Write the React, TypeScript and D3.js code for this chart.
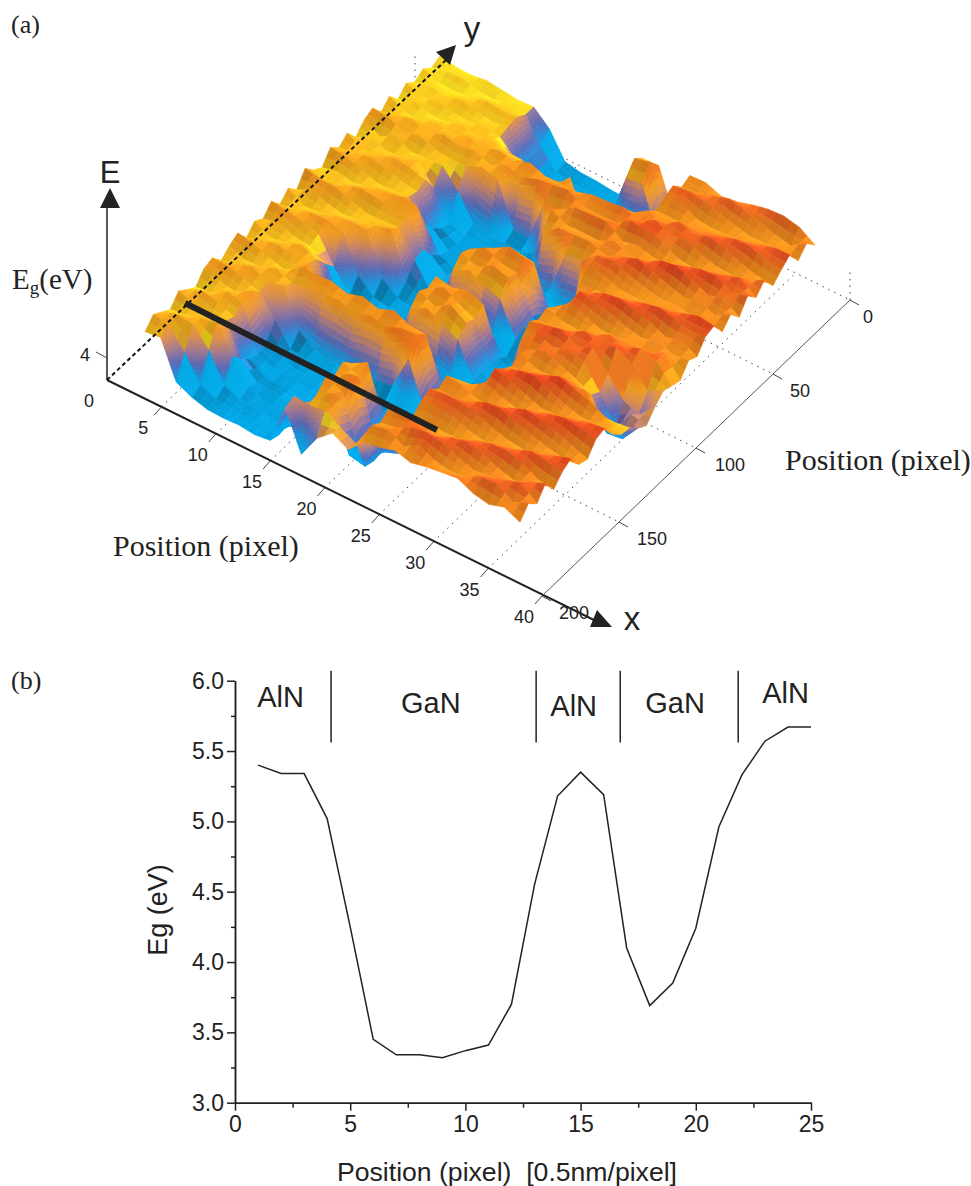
import React, { useEffect, useRef } from 'react';
import * as d3 from 'd3';

// panel (b) profile
const profileX = [1, 2, 3, 4, 5, 6, 7, 8, 9, 10, 11, 12, 13, 14, 15, 16, 17, 18, 19, 20, 21, 22, 23, 24, 25];
const profileEg = [5.4, 5.34, 5.34, 5.02, 4.25, 3.45, 3.34, 3.34, 3.32, 3.37, 3.41, 3.7, 4.55, 5.18, 5.35, 5.19, 4.1, 3.69, 3.85, 4.24, 4.96, 5.33, 5.57, 5.67, 5.67];
const egTicks = [3, 3.5, 4, 4.5, 5, 5.5, 6];
const egMinor = [3.25, 3.75, 4.25, 4.75, 5.25, 5.75];
const posTicks = [0, 5, 10, 15, 20, 25];
const posMinor = [2.5, 7.5, 12.5, 17.5, 22.5];
const layerEdges = [4.17, 13.07, 16.72, 21.84];
const layerNames = ['AlN', 'GaN', 'AlN', 'GaN', 'AlN'];
const layerX = [1.98, 8.5, 14.7, 19.1, 23.9];
const layerY = [5.81, 5.77, 5.75, 5.77, 5.84];

// panel (a) axes
const xTicks3d = [0, 5, 10, 15, 20, 25, 30, 35, 40];
const yTicks3d = [0, 50, 100, 150, 200];

// panel (a) surface heights in eV, one row per step along x, front to back along y
const r00 = [4.95,5.3,5.1,4.9,5.3,5.05, 4.85,5.25,5.35,4.95,5.2,5.4, 4.9,5.25,5.05,5.4,5.0,5.3, 4.95,5.45,5.1,4.9,5.35,5.05, 5.3,4.85,5.2,5.35,4.9,5.2, 4.8,5.1,4.85,5.05,4.8,4.95];
const r01 = [5.05,5.2,5.3,5.0,5.1,5.3, 4.95,5.1,5.35,5.15,5.0,5.3, 5.15,4.95,5.2,5.35,5.1,4.95, 5.25,5.35,4.95,5.05,5.3,5.15, 5.0,5.1,4.9,5.3,5.1,4.9, 5.05,4.9,5.0,4.85,4.95,4.85];
const r02 = [3.7,4.5,5.25,5.2,4.95,5.2, 5.3,5.0,5.2,5.35,5.05,5.1, 5.3,5.05,5.0,5.25,5.3,5.0, 5.05,5.35,5.15,4.95,5.15,5.3, 5.1,4.95,5.2,5.1,5.25,4.95, 4.9,5.05,4.95,4.85,5.0,4.85];
const r03 = [3.45,3.6,4.6,5.3,5.1,4.95, 5.2,5.35,5.0,5.1,5.3,4.95, 5.15,5.3,4.95,5.1,5.35,5.2, 4.95,5.15,5.35,5.1,4.95,5.2, 5.3,5.05,4.95,5.25,5.1,5.15, 4.9,4.95,5.1,4.9,4.85,4.95];
const r04 = [3.3,3.4,3.6,4.4,4.0,3.7, 3.6,3.7,4.3,5.25,5.05,5.35, 5.2,5.05,4.6,4.2,5.2,5.3, 5.05,5.0,5.3,5.25,5.0,5.05, 5.25,5.2,5.0,5.05,5.3,5.05, 5.1,4.9,5.0,5.1,4.85,4.9];
const r05 = [3.3,3.35,3.4,3.55,3.45,3.35, 3.35,3.45,3.5,3.9,5.2,5.4, 4.4,3.8,3.5,3.45,3.9,5.3, 5.15,5.05,5.2,5.35,5.05,4.95, 5.1,4.5,5.05,5.0,5.2,5.25, 5.0,5.05,4.9,5.05,4.95,4.85];
const r06 = [3.35,3.3,3.4,3.3,3.45,3.3, 3.4,3.3,3.45,3.5,5.25,5.45, 3.7,3.4,3.35,3.3,3.4,3.8, 5.35,5.1,5.25,5.35,4.4,3.9, 3.6,3.5,4.4,5.05,5.3,5.15, 5.15,4.95,5.05,5.1,4.9,4.9];
const r07 = [3.3,3.35,3.3,3.4,3.3,3.35, 3.3,3.4,3.3,3.4,5.35,5.3, 3.4,3.35,3.3,3.35,3.3,3.4, 3.7,4.2,4.3,3.8,3.5,3.4, 3.35,3.4,3.5,5.3,5.1,5.35, 5.0,4.4,3.9,4.0,4.0,4.4];
const r08 = [3.4,3.3,3.35,3.3,3.4,3.3, 3.35,3.3,3.4,3.4,5.2,5.5, 3.4,3.3,3.35,3.3,3.4,3.3, 3.35,3.4,3.3,3.35,3.3,3.4, 3.3,3.35,3.4,5.15,5.4,5.25, 5.0,3.7,3.4,3.35,3.4,3.5];
const r09 = [4.9,5.05,3.6,3.4,3.3,3.35, 3.3,3.4,3.3,3.5,5.4,5.35, 3.5,3.35,3.3,3.4,3.3,3.35, 3.3,3.4,3.35,3.3,3.4,3.3, 3.35,3.3,3.4,3.6,5.25,5.5, 4.4,3.5,3.3,3.35,3.3,3.4];
const r10 = [3.5,5.0,5.2,5.5,5.25,5.45, 5.1,3.8,3.4,3.6,5.3,5.6, 3.6,5.1,5.45,5.25,5.4,3.7, 5.05,5.4,5.25,3.8,3.4,3.35, 3.3,3.35,3.4,3.6,5.5,5.3, 4.2,3.4,3.35,3.3,3.35,3.4];
const r11 = [4.4,5.1,5.45,5.25,5.6,5.2, 5.45,3.7,3.35,3.7,5.55,5.35, 3.5,5.4,5.2,5.6,5.3,3.6, 5.35,5.2,5.6,5.3,3.8,3.4, 3.35,3.4,3.6,5.2,5.6,5.35, 5.3,3.5,3.3,3.35,3.3,3.35];
const r12 = [4.9,4.8,3.5,3.3,3.4,3.3, 3.4,3.3,3.4,5.0,5.6,5.35, 3.5,5.15,5.55,5.3,5.5,3.5, 5.1,5.55,5.35,5.65,5.15,3.7, 3.4,5.05,5.55,5.3,5.7,5.35, 4.0,3.4,3.35,3.3,3.4,3.35];
const r13 = [4.6,4.5,3.4,3.3,3.35,3.3, 3.35,3.3,3.4,3.35,3.6,3.8, 3.4,4.85,5.2,5.05,5.3,3.5, 4.9,5.4,5.3,5.55,5.1,3.6, 3.5,5.5,5.3,5.65,5.4,5.55, 3.6,3.4,3.3,5.0,5.45,5.15];
const r14 = [5.2,5.5,5.3,5.55,3.6,3.4, 3.3,3.35,3.3,3.4,3.3,3.35, 3.4,3.6,3.7,3.7,3.6,3.4, 3.7,3.9,4.0,3.8,3.5,3.4, 5.15,5.55,5.35,5.7,5.4,5.6, 3.5,3.35,3.4,5.1,5.6,5.2];
const r15 = [5.3,5.65,5.45,5.7,5.25,5.55, 5.7,5.4,5.6,5.2,3.5,3.35, 3.3,3.4,3.35,3.3,3.4,3.35, 3.3,3.4,3.3,3.35,3.3,3.5, 5.2,5.6,5.35,5.75,5.45,5.7, 5.2,3.5,3.35,3.4,3.5,3.6];
const r16 = [5.5,5.35,5.75,5.6,5.35,5.65, 5.8,5.4,5.55,5.3,3.9,3.5, 3.4,3.6,3.9,5.2,5.6,5.35, 5.5,5.25,4.2,4.5,5.25,5.6, 5.7,5.4,5.65,5.35,5.8,5.5, 5.6,5.3,5.5,5.65,5.3,5.45];
const r17 = [5.35,5.7,5.85,5.45,5.3,5.6, 5.8,5.55,5.35,5.65,5.9,5.6, 5.4,5.6,5.45,5.8,5.75,5.4, 5.35,5.7,5.85,5.5,5.3,5.55, 5.8,5.65,5.4,5.5,5.75,5.85, 5.45,5.35,5.65,5.75,5.4,5.5];
const r18 = [5.5,5.45,5.8,5.7,5.35,5.4, 5.7,5.85,5.4,5.45,5.75,5.85, 5.5,5.35,5.7,5.55,5.9,5.55, 5.3,5.5,5.75,5.8,5.4,5.35, 5.6,5.9,5.5,5.35,5.65,5.6, 5.8,5.4,5.35,5.7,5.6,5.3];
const r19 = [5.6,5.35,5.55,5.85,5.6,5.3, 5.5,5.9,5.65,5.3,5.55,5.95, 5.7,5.35,5.5,5.75,5.6,5.85, 5.45,5.3,5.65,5.9,5.55,5.35, 5.45,5.75,5.85,5.4,5.35,5.75, 5.65,5.5,5.3,5.55,5.8,5.4];
const r20 = [5.7,5.45,5.4,5.7,5.8,5.45, 5.35,5.7,5.9,5.5,5.35,5.7, 5.95,5.55,5.3,5.6,5.85,5.65, 5.75,5.35,5.45,5.8,5.75,5.4, 5.35,5.55,5.95,5.65,5.3,5.5, 5.85,5.6,5.35,5.4,5.7,5.6];
const r21 = [5.45,5.75,5.5,5.5,5.85,5.6, 5.3,5.55,5.85,5.75,5.4,5.5, 5.8,5.5,5.0,4.8,5.2,5.9, 5.6,5.5,5.35,5.65,5.9,5.5, 5.4,5.4,5.75,5.85,5.45,5.35, 5.7,5.8,5.45,5.3,5.55,5.75];
const r22 = [5.35,5.8,5.65,5.35,5.7,5.85, 5.45,5.4,5.7,5.9,5.55,5.35, 5.65,4.7,3.9,3.8,4.5,5.55, 5.85,5.4,5.55,5.4,5.8,5.7, 5.35,5.55,5.5,5.9,5.65,5.35, 5.5,5.85,5.6,5.35,5.4,5.8];
const r23 = [5.55,5.45,5.85,5.6,5.4,5.8, 5.7,5.3,5.5,5.85,5.75,5.4, 5.35,4.9,4.0,4.6,4.3,4.9, 5.7,5.7,5.35,5.6,5.65,5.9, 5.5,5.35,5.7,5.6,5.85,5.45, 5.35,5.65,5.8,5.45,5.3,5.7];
const r24 = [5.3,5.7,5.4,5.85,5.35,5.7, 5.9,5.4,5.3,5.75,5.85,5.35, 5.05,5.0,4.7,4.5,4.9,5.2, 5.1,5.0,5.45,5.3,5.75,5.85, 5.35,5.7,5.3,5.8,5.45,5.8, 5.3,5.6,5.85,5.35,5.7,5.35];
const surfaceRows = [r00, r01, r02, r03, r04, r05, r06, r07, r08, r09, r10, r11, r12, r13, r14, r15, r16, r17, r18, r19, r20, r21, r22, r23, r24];

// flat parts of the surface
const energyStops = [3.3, 3.6, 3.9, 4.1, 4.4, 4.6, 4.8, 4.88, 5.0, 5.25, 5.55, 5.75, 5.95];
const energyColours = ['#00aeef', '#08a6ea', '#3f7fd0', '#6c62ae', '#b07f8a', '#d99060', '#f0a638', '#fbe01f', '#fcc51c', '#f9a31c', '#f5841e', '#ee5a1f', '#dc2f1c'];
// steep walls go orange to tan to purple to blue, with no yellow in between
const wallStops = [3.45, 3.75, 4.1, 4.45, 4.85, 5.2, 5.6];
const wallColours = ['#00aeef', '#1d94e0', '#5c6cbb', '#a37a98', '#e2924e', '#f8a01e', '#f37a1e'];

const serif = '"Liberation Serif", serif';
const sans = '"Liberation Sans", Arial, sans-serif';

export default function App() {
  const ref = useRef<SVGSVGElement>(null);

  useEffect(() => {
    const svg = d3.select(ref.current);
    svg.selectAll('*').remove();

    // ---- panel (a) ----
    const a = svg.append('g');
    const ax = { x: 107, y: 380 };
    const xAlong = d3.scaleLinear().domain([0, 40]).range([0, 435]);
    const xDrop = d3.scaleLinear().domain([0, 40]).range([0, 216]);
    const yAlong = d3.scaleLinear().domain([200, 0]).range([0, 308]);
    const yRise = d3.scaleLinear().domain([200, 0]).range([0, 296]);
    const base = (x: number, y: number) => [ax.x + xAlong(x) + yAlong(y), ax.y + xDrop(x) - yRise(y)];

    // dotted floor grid, hidden by the surface where it passes under it
    const dotted = (p: number[], q: number[]) =>
      a.append('line').attr('x1', p[0]).attr('y1', p[1]).attr('x2', q[0]).attr('y2', q[1])
        .attr('stroke', '#444').attr('stroke-width', 1).attr('stroke-dasharray', '1.5 5');
    xTicks3d.slice(1, -1).forEach(t => dotted(base(t, 200), base(t, 0)));
    yTicks3d.slice(1, -1).forEach(t => dotted(base(0, t), base(40, t)));
    dotted(base(0, 0), base(40, 0));
    dotted(base(0, 0), [base(0, 0)[0], base(0, 0)[1] - 30]);
    dotted(base(40, 0), [base(40, 0)[0], base(40, 0)[1] - 28]);

    // surface: rows run along x, columns run along y
    const nRows = surfaceRows.length;
    const nCols = surfaceRows[0].length;
    const uX = d3.scaleLinear().domain([0, nRows - 1]).range([0, 375]);
    const uY = d3.scaleLinear().domain([0, nRows - 1]).range([0, 200]);
    const vX = d3.scaleLinear().domain([0, nCols - 1]).range([0, 295]);
    const vY = d3.scaleLinear().domain([0, nCols - 1]).range([0, -276]);
    const lift = d3.scaleLinear().domain([5.2, 6.2]).range([0, -27]);
    const colour = d3.scaleLinear<string>().domain(energyStops).range(energyColours)
      .interpolate(d3.interpolateRgb).clamp(true);
    const wallColour = d3.scaleLinear<string>().domain(wallStops).range(wallColours)
      .interpolate(d3.interpolateRgb).clamp(true);
    const project = (i: number, j: number, e: number) =>
      [145 + uX(i) + vX(j), 325 + uY(i) + vY(j) + lift(e)];

    const surf = a.append('g').attr('stroke-width', 0.6).attr('stroke-linejoin', 'round');
    // painter's order: far corner first, steep cells get cut finer so walls grade smoothly
    for (let j = nCols - 2; j >= 0; j--) {
      for (let i = 0; i < nRows - 1; i++) {
        const c00 = surfaceRows[i][j], c10 = surfaceRows[i + 1][j];
        const c01 = surfaceRows[i][j + 1], c11 = surfaceRows[i + 1][j + 1];
        const top = d3.max([c00, c10, c01, c11])!;
        const isWall = top - d3.min([c00, c10, c01, c11])! > 0.9;
        const sub = isWall ? 8 : 2;
        const at = (fi: number, fj: number) =>
          (c00 * (1 - fi) + c10 * fi) * (1 - fj) + (c01 * (1 - fi) + c11 * fi) * fj;
        for (let n = sub - 1; n >= 0; n--) {
          for (let m = 0; m < sub; m++) {
            const f0 = m / sub, f1 = (m + 1) / sub, g0 = n / sub, g1 = (n + 1) / sub;
            const e00 = at(f0, g0), e10 = at(f1, g0), e11 = at(f1, g1), e01 = at(f0, g1);
            const pts = [project(i + f0, j + g0, e00), project(i + f1, j + g0, e10),
              project(i + f1, j + g1, e11), project(i + f0, j + g1, e01)];
            const mean = (e00 + e10 + e11 + e01) / 4;
            const slope = ((e01 + e11) - (e00 + e10)) / 2 * sub;
            let fill: string;
            if (isWall) {
              // taller columns read brighter, which gives the walls their vertical streaks
              fill = d3.color(wallColour(mean + (top - 5.3) * 1.2))!.darker(Math.max(0, Math.min(0.35, slope * 0.15))).formatHex();
            } else {
              const k = mean < 3.8
                ? Math.min(0.9, Math.abs(slope) * 3)
                : Math.max(-0.3, Math.min(0.45, slope * 1.2));
              fill = d3.color(colour(mean))!.darker(k).formatHex();
            }
            surf.append('path')
              .attr('d', 'M' + pts.map(p => p[0].toFixed(1) + ',' + p[1].toFixed(1)).join('L') + 'Z')
              .attr('fill', fill).attr('stroke', fill);
          }
        }
      }
    }

    // axes over the surface
    const line = (p: number[], q: number[], w: number, col = '#222') =>
      a.append('line').attr('x1', p[0]).attr('y1', p[1]).attr('x2', q[0]).attr('y2', q[1])
        .attr('stroke', col).attr('stroke-width', w);
    line([ax.x, ax.y], [596, 621], 2);
    line([ax.x, ax.y], [ax.x, 205], 1.5);
    line(base(40, 200), base(40, 0), 1, '#555');
    a.append('line').attr('x1', ax.x).attr('y1', ax.y).attr('x2', 446).attr('y2', 60)
      .attr('stroke', '#111').attr('stroke-width', 2).attr('stroke-dasharray', '4 3');
    const arrow = (pts: number[][]) => a.append('path').attr('d', d3.line()(pts as [number, number][]) + 'Z').attr('fill', '#222');
    arrow([[590, 627], [612, 627], [597, 610]]);
    arrow([[436, 52], [456, 45], [450, 65]]);
    arrow([[100, 208], [120, 208], [110, 188]]);
    line([185, 303], [437, 430], 6);

    const label = (t: string, x: number, y: number, size: number, family = sans, anchor = 'middle') =>
      a.append('text').attr('x', x).attr('y', y).attr('font-size', size).attr('font-family', family)
        .attr('text-anchor', anchor).attr('fill', '#222').text(t);

    xTicks3d.forEach(t => {
      const p = base(t, 200);
      if (t > 0) line(p, [p[0] - 7, p[1] + 8], 1, '#444');
      label(String(t), p[0] - 18, p[1] + 27, 18);
    });
    const yLabelDx = [18, 27, 34, 33, 32];
    yTicks3d.forEach((t, i) => {
      const p = base(40, t);
      line(p, [p[0] + 9, p[1] + 5], 1, '#444');
      label(String(t), p[0] + yLabelDx[i], p[1] + 23, 18);
    });
    line([96, 352], [107, 358], 1, '#444');
    label('4', 85, 361, 18);

    label('E', 110, 183, 31);
    label('y', 472, 40, 33);
    label('x', 632, 630, 33);
    label('(a)', 11, 33, 26, serif, 'start');
    label('Position (pixel)', 113, 556, 30, serif, 'start');
    label('Position (pixel)', 785, 470, 30, serif, 'start');
    const eg = a.append('text').attr('x', 12).attr('y', 289).attr('font-size', 29).attr('font-family', serif).attr('fill', '#222');
    eg.append('tspan').text('E');
    eg.append('tspan').attr('dy', 5).attr('font-size', 19).text('g');
    eg.append('tspan').attr('dy', -5).text('(eV)');

    // ---- panel (b) ----
    const b = svg.append('g');
    const x = d3.scaleLinear().domain([0, 25]).range([235, 811]);
    const y = d3.scaleLinear().domain([3, 6]).range([1102.7, 680.7]);

    b.append('text').attr('x', 11).attr('y', 689).attr('font-size', 26).attr('font-family', serif).attr('fill', '#222').text('(b)');

    const styleAxis = (g: any, size: number) => {
      g.attr('font-family', sans).attr('font-size', size);
      g.selectAll('path').attr('stroke', '#222').attr('stroke-width', 1.5);
      g.selectAll('line').attr('stroke', '#222').attr('stroke-width', 1.5);
      g.selectAll('text').attr('fill', '#222');
    };
    const gx = b.append('g').attr('transform', 'translate(0,1102.7)')
      .call(d3.axisBottom(x).tickValues(posTicks).tickSize(8).tickSizeOuter(0).tickPadding(5).tickFormat(d3.format('d') as any));
    styleAxis(gx, 23);
    const gxMinor = b.append('g').attr('transform', 'translate(0,1102.7)')
      .call(d3.axisBottom(x).tickValues(posMinor).tickSize(5).tickSizeOuter(0).tickFormat(() => ''));
    styleAxis(gxMinor, 23);
    const gy = b.append('g').attr('transform', 'translate(235,0)')
      .call(d3.axisLeft(y).tickValues(egTicks).tickSize(8).tickSizeOuter(0).tickPadding(3).tickFormat(d3.format('.1f') as any));
    styleAxis(gy, 23);
    const gyMinor = b.append('g').attr('transform', 'translate(235,0)')
      .call(d3.axisLeft(y).tickValues(egMinor).tickSize(4).tickSizeOuter(0).tickFormat(() => ''));
    styleAxis(gyMinor, 23);

    const profile = d3.line<number>().x((_, i) => x(profileX[i])).y(d => y(d));
    b.append('path').attr('d', profile(profileEg)).attr('fill', 'none').attr('stroke', '#222').attr('stroke-width', 1.5);

    layerEdges.forEach(e => {
      b.append('line').attr('x1', x(e)).attr('x2', x(e)).attr('y1', y(6.07)).attr('y2', y(5.56))
        .attr('stroke', '#222').attr('stroke-width', 1.5);
    });
    layerNames.forEach((n, i) => {
      b.append('text').attr('x', x(layerX[i])).attr('y', y(layerY[i])).attr('text-anchor', 'middle')
        .attr('font-family', sans).attr('font-size', 29).attr('fill', '#222').text(n);
    });

    b.append('text').attr('transform', 'translate(167,910) rotate(-90)').attr('text-anchor', 'middle')
      .attr('font-family', sans).attr('font-size', 27).attr('fill', '#222').text('Eg (eV)');
    b.append('text').attr('x', 507).attr('y', 1181).attr('text-anchor', 'middle')
      .style('white-space', 'pre').attr('font-family', sans).attr('font-size', 26.6).attr('fill', '#222')
      .text('Position (pixel)  [0.5nm/pixel]');
  }, []);

  return (
    <svg ref={ref} width={971} height={1186}
      style={{ position: 'absolute', left: 0, top: 0, background: '#fff' }} />
  );
}
